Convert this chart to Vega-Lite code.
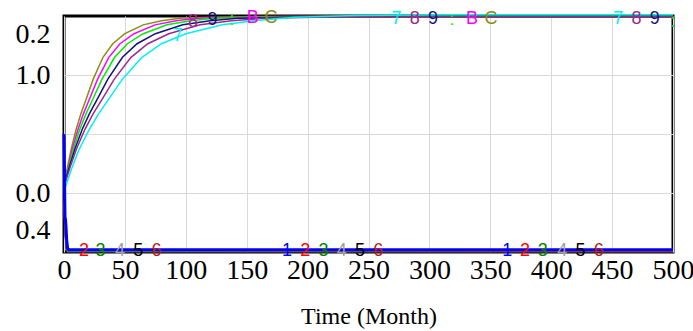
{
  "$schema": "https://vega.github.io/schema/vega-lite/v6.json",
  "width": 609,
  "height": 236,
  "autosize": "none",
  "padding": {"left": 64, "top": 16, "right": 20, "bottom": 79},
  "background": "white",
  "datasets": {
    "curves": [
      {"s": "C", "t": 0, "v": 1.15}, {"s": "C", "t": 3, "v": 1.45}, {"s": "C", "t": 6, "v": 1.75}, {"s": "C", "t": 10, "v": 2.08}, {"s": "C", "t": 14, "v": 2.35}, {"s": "C", "t": 18, "v": 2.58}, {"s": "C", "t": 24, "v": 2.93}, {"s": "C", "t": 32, "v": 3.3}, {"s": "C", "t": 40, "v": 3.53}, {"s": "C", "t": 50, "v": 3.7}, {"s": "C", "t": 65, "v": 3.85}, {"s": "C", "t": 80, "v": 3.92}, {"s": "C", "t": 95, "v": 3.96}, {"s": "C", "t": 120, "v": 3.98}, {"s": "C", "t": 160, "v": 3.99}, {"s": "C", "t": 500, "v": 3.99},
      {"s": "B", "t": 0, "v": 1.15}, {"s": "B", "t": 3.5, "v": 1.45}, {"s": "B", "t": 6.9, "v": 1.75}, {"s": "B", "t": 11.5, "v": 2.08}, {"s": "B", "t": 16.1, "v": 2.35}, {"s": "B", "t": 20.7, "v": 2.58}, {"s": "B", "t": 27.6, "v": 2.93}, {"s": "B", "t": 36.8, "v": 3.3}, {"s": "B", "t": 46, "v": 3.53}, {"s": "B", "t": 57.5, "v": 3.7}, {"s": "B", "t": 74.8, "v": 3.85}, {"s": "B", "t": 92, "v": 3.92}, {"s": "B", "t": 109.3, "v": 3.96}, {"s": "B", "t": 138, "v": 3.98}, {"s": "B", "t": 184, "v": 3.99}, {"s": "B", "t": 500, "v": 3.99},
      {"s": ":", "t": 0, "v": 1.14}, {"s": ":", "t": 3.9, "v": 1.45}, {"s": ":", "t": 7.8, "v": 1.75}, {"s": ":", "t": 13, "v": 2.08}, {"s": ":", "t": 18.2, "v": 2.35}, {"s": ":", "t": 23.4, "v": 2.58}, {"s": ":", "t": 31.2, "v": 2.93}, {"s": ":", "t": 41.6, "v": 3.3}, {"s": ":", "t": 52, "v": 3.53}, {"s": ":", "t": 65, "v": 3.7}, {"s": ":", "t": 84.5, "v": 3.85}, {"s": ":", "t": 104, "v": 3.92}, {"s": ":", "t": 123.5, "v": 3.96}, {"s": ":", "t": 156, "v": 3.98}, {"s": ":", "t": 208, "v": 3.99}, {"s": ":", "t": 500, "v": 3.99},
      {"s": "9", "t": 0, "v": 1.13}, {"s": "9", "t": 4.5, "v": 1.45}, {"s": "9", "t": 9, "v": 1.75}, {"s": "9", "t": 15, "v": 2.08}, {"s": "9", "t": 21, "v": 2.35}, {"s": "9", "t": 27, "v": 2.58}, {"s": "9", "t": 36, "v": 2.93}, {"s": "9", "t": 48, "v": 3.3}, {"s": "9", "t": 60, "v": 3.53}, {"s": "9", "t": 75, "v": 3.7}, {"s": "9", "t": 97.5, "v": 3.85}, {"s": "9", "t": 120, "v": 3.92}, {"s": "9", "t": 142.5, "v": 3.96}, {"s": "9", "t": 180, "v": 3.98}, {"s": "9", "t": 240, "v": 3.98}, {"s": "9", "t": 500, "v": 3.98},
      {"s": "8", "t": 0, "v": 1.1}, {"s": "8", "t": 5.2, "v": 1.45}, {"s": "8", "t": 10.3, "v": 1.75}, {"s": "8", "t": 17.2, "v": 2.08}, {"s": "8", "t": 24.1, "v": 2.35}, {"s": "8", "t": 31, "v": 2.58}, {"s": "8", "t": 41.3, "v": 2.93}, {"s": "8", "t": 55, "v": 3.3}, {"s": "8", "t": 68.8, "v": 3.53}, {"s": "8", "t": 86, "v": 3.7}, {"s": "8", "t": 111.8, "v": 3.85}, {"s": "8", "t": 137.6, "v": 3.92}, {"s": "8", "t": 163.4, "v": 3.96}, {"s": "8", "t": 206.4, "v": 3.98}, {"s": "8", "t": 275, "v": 3.98}, {"s": "8", "t": 500, "v": 3.98},
      {"s": "7", "t": 0, "v": 1.03}, {"s": "7", "t": 6, "v": 1.4}, {"s": "7", "t": 12, "v": 1.72}, {"s": "7", "t": 20, "v": 2.05}, {"s": "7", "t": 28, "v": 2.33}, {"s": "7", "t": 36, "v": 2.57}, {"s": "7", "t": 48, "v": 2.93}, {"s": "7", "t": 64, "v": 3.3}, {"s": "7", "t": 80, "v": 3.53}, {"s": "7", "t": 100, "v": 3.7}, {"s": "7", "t": 130, "v": 3.85}, {"s": "7", "t": 160, "v": 3.93}, {"s": "7", "t": 190, "v": 3.98}, {"s": "7", "t": 240, "v": 4.01}, {"s": "7", "t": 320, "v": 4.02}, {"s": "7", "t": 500, "v": 4.02},
      {"s": "6", "t": 0, "v": 0.75}, {"s": "6", "t": 1, "v": 0.3}, {"s": "6", "t": 2, "v": 0.06}, {"s": "6", "t": 3, "v": 0.01}, {"s": "6", "t": 500, "v": 0.01},
      {"s": "5", "t": 0, "v": 0.78}, {"s": "5", "t": 1, "v": 0.3}, {"s": "5", "t": 2, "v": 0.08}, {"s": "5", "t": 3, "v": 0.0}, {"s": "5", "t": 500, "v": 0.0},
      {"s": "4", "t": 0, "v": 0.8}, {"s": "4", "t": 1, "v": 0.35}, {"s": "4", "t": 2, "v": 0.1}, {"s": "4", "t": 3, "v": 0.01}, {"s": "4", "t": 500, "v": 0.01},
      {"s": "3", "t": 0, "v": 0.85}, {"s": "3", "t": 1, "v": 0.4}, {"s": "3", "t": 2, "v": 0.12}, {"s": "3", "t": 3, "v": 0.02}, {"s": "3", "t": 500, "v": 0.02},
      {"s": "2", "t": 0, "v": 0.9}, {"s": "2", "t": 1, "v": 0.45}, {"s": "2", "t": 2, "v": 0.15}, {"s": "2", "t": 3, "v": 0.03}, {"s": "2", "t": 500, "v": 0.02},
      {"s": "1", "t": 0, "v": 2.0}, {"s": "1", "t": 0.4, "v": 1.3}, {"s": "1", "t": 0.8, "v": 0.6}, {"s": "1", "t": 1.2, "v": 0.55}, {"s": "1", "t": 1.6, "v": 0.45}, {"s": "1", "t": 2.2, "v": 0.2}, {"s": "1", "t": 3, "v": 0.06}, {"s": "1", "t": 4, "v": 0.04}, {"s": "1", "t": 500, "v": 0.04}
    ],
    "labels": [
      {"s": "2", "t": 16.4, "v": 0.02}, {"s": "3", "t": 30, "v": 0.02}, {"s": "4", "t": 46, "v": 0.02}, {"s": "5", "t": 61, "v": 0.02}, {"s": "6", "t": 76, "v": 0.02},
      {"s": "1", "t": 183, "v": 0.02}, {"s": "2", "t": 198, "v": 0.02}, {"s": "3", "t": 213, "v": 0.02}, {"s": "4", "t": 228, "v": 0.02}, {"s": "5", "t": 243, "v": 0.02}, {"s": "6", "t": 258, "v": 0.02},
      {"s": "1", "t": 364, "v": 0.02}, {"s": "2", "t": 378.5, "v": 0.02}, {"s": "3", "t": 393, "v": 0.02}, {"s": "4", "t": 409, "v": 0.02}, {"s": "5", "t": 424, "v": 0.02}, {"s": "6", "t": 439, "v": 0.02},
      {"s": "7", "t": 93.6, "v": 3.66}, {"s": "8", "t": 106, "v": 3.9}, {"s": "9", "t": 122, "v": 3.94}, {"s": ":", "t": 138, "v": 3.93}, {"s": "B", "t": 155, "v": 3.96}, {"s": "C", "t": 170, "v": 3.96},
      {"s": "7", "t": 273, "v": 3.95}, {"s": "8", "t": 288, "v": 3.95}, {"s": "9", "t": 303, "v": 3.95}, {"s": ":", "t": 318.5, "v": 3.93}, {"s": "B", "t": 335, "v": 3.95}, {"s": "C", "t": 350.6, "v": 3.95},
      {"s": "7", "t": 455, "v": 3.95}, {"s": "8", "t": 470, "v": 3.95}, {"s": "9", "t": 485, "v": 3.95}, {"s": ":", "t": 500, "v": 3.9}
    ]
  },
  "layer": [
    {
      "data": {"name": "curves"},
      "mark": {"type": "line", "strokeWidth": 1.5},
      "encoding": {
        "x": {
          "field": "t", "type": "quantitative",
          "scale": {"domain": [0, 500], "nice": false},
          "axis": {
            "values": [0, 25, 50, 75, 100, 125, 150, 175, 200, 225, 250, 275, 300, 325, 350, 375, 400, 425, 450, 475, 500],
            "labelExpr": "datum.value % 50 === 0 ? datum.label : ''",
            "labelOverlap": false,
            "labelFlush": false,
            "labelBound": false,
            "grid": true,
            "gridColor": "#d9d9d9",
            "gridWidth": 1,
            "ticks": false,
            "domain": false,
            "labelFont": "Liberation Serif",
            "labelFontSize": 28,
            "labelColor": "#000",
            "labelPadding": 4,
            "title": "Time (Month)",
            "titleFont": "Liberation Serif",
            "titleFontSize": 24,
            "titleFontWeight": "normal",
            "titleColor": "#000",
            "titlePadding": 20
          }
        },
        "y": {
          "field": "v", "type": "quantitative",
          "scale": {"domain": [0, 4], "nice": false, "zero": false},
          "axis": {
            "values": [0.356, 1, 2, 3, 3.678],
            "labelExpr": "datum.value < 0.5 ? '0.4' : datum.value < 1.5 ? '0.0' : datum.value < 2.5 ? '' : datum.value < 3.3 ? '1.0' : '0.2'",
            "labelOverlap": false,
            "labelBound": false,
            "labelFlush": false,
            "grid": true,
            "gridColor": "#d9d9d9",
            "gridOpacity": {"condition": {"test": "datum.value === 1 || datum.value === 2 || datum.value === 3", "value": 1}, "value": 0},
            "ticks": false,
            "domain": false,
            "labelFont": "Liberation Serif",
            "labelFontSize": 28,
            "labelColor": "#000",
            "labelPadding": 14,
            "title": null
          }
        },
        "color": {
          "field": "s", "type": "nominal",
          "scale": {
            "domain": ["1", "2", "3", "4", "5", "6", "7", "8", "9", ":", "B", "C"],
            "range": ["#0000ff", "#ff0000", "#008000", "#a0a0a0", "#000000", "#b01c1c", "#00f0f0", "#9c2a8c", "#10107e", "#00ee00", "#ff00ff", "#8c8c10"]
          },
          "legend": null
        }
      }
    },
    {
      "data": {"name": "curves"},
      "transform": [{"filter": "datum.s === '1'"}],
      "mark": {"type": "line", "strokeWidth": 3, "color": "#0000ff"},
      "encoding": {
        "x": {"field": "t", "type": "quantitative"},
        "y": {"field": "v", "type": "quantitative"}
      }
    },
    {
      "data": {"name": "labels"},
      "mark": {"type": "text", "font": "Liberation Sans", "fontSize": 18, "baseline": "middle", "align": "center"},
      "encoding": {
        "x": {"field": "t", "type": "quantitative"},
        "y": {"field": "v", "type": "quantitative"},
        "text": {"field": "s", "type": "nominal"},
        "color": {"field": "s", "type": "nominal", "legend": null}
      }
    }
  ],
  "config": {
    "view": {"stroke": "#000000", "strokeWidth": 3}
  }
}
